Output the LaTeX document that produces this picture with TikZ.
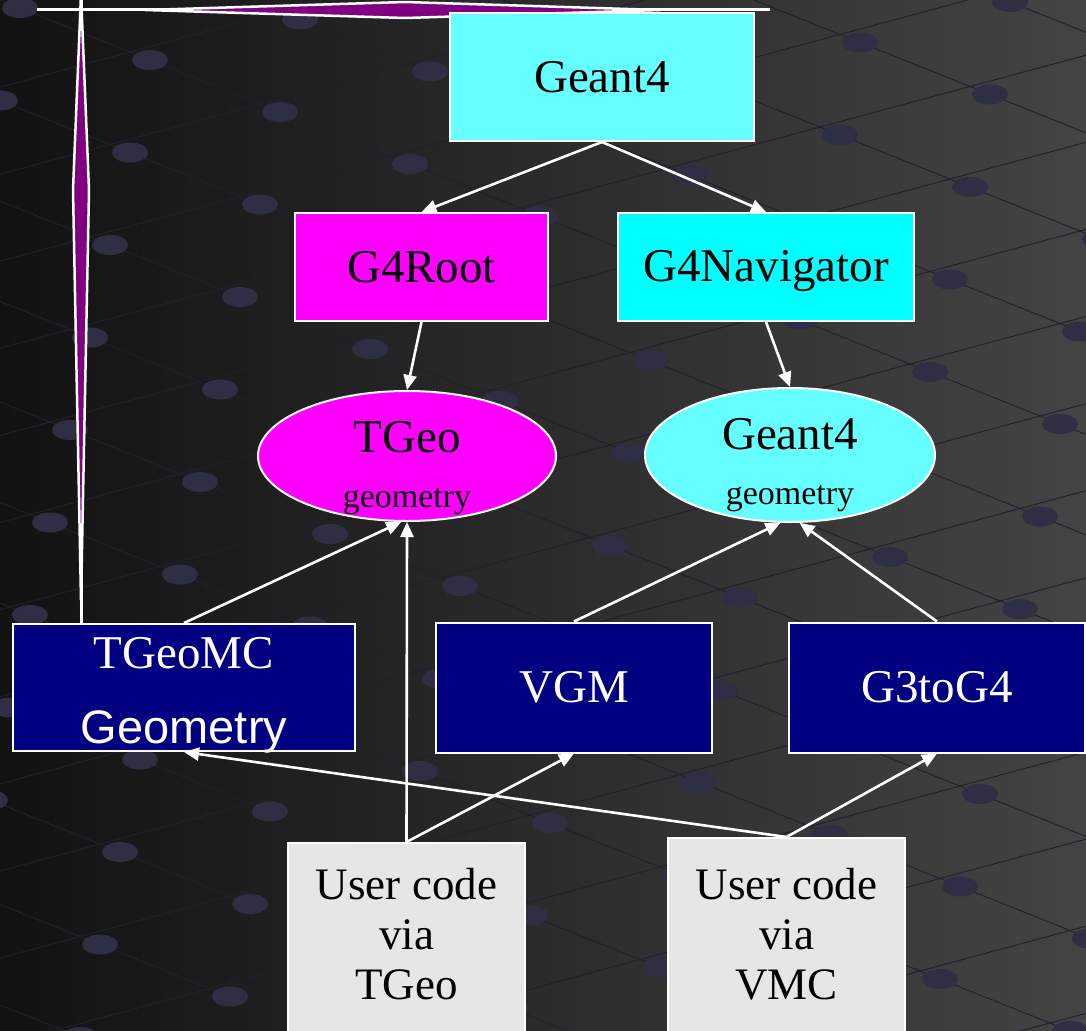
\documentclass[tikz,border=0pt]{standalone}
\usepackage{fontspec}
\setmainfont{Liberation Serif}
\newfontfamily\sansgeo{Liberation Sans}
\usetikzlibrary{arrows.meta, shapes.geometric}
\definecolor{lightcyan}{HTML}{66FFFF}
\definecolor{purecyan}{HTML}{00FFFF}
\definecolor{puremagenta}{HTML}{FF00FF}
\definecolor{darknavy}{HTML}{000080}
\definecolor{usergray}{HTML}{E6E6E6}
\definecolor{kitepurple}{HTML}{800080}
\definecolor{bgdark}{HTML}{121212}
\definecolor{bglight}{HTML}{444444}
\definecolor{dotblue}{HTML}{2E2E44}
\definecolor{gridblue}{HTML}{20202F}

\begin{document}
\begin{tikzpicture}[x=1pt,y=-1pt,>={Triangle[length=15pt,width=13pt]},
  box node/.style={rectangle,draw=white,line width=2pt,inner sep=0pt,font=\fontsize{47}{49}\selectfont},
  geo node/.style={ellipse,draw=white,line width=2pt,inner sep=0pt,minimum width=298pt,minimum height=130pt},
  geo text/.style={align=center,inner sep=0pt,font=\fontsize{47}{49}\selectfont},
  tool node/.style={box node,fill=darknavy,text=white,align=center,minimum height=130pt},
  user node/.style={box node,fill=usergray,align=center,minimum width=237pt,minimum height=200pt,
    font=\fontsize{45}{50}\selectfont},
  wire/.style={->,white,line width=2.6pt}]
  \useasboundingbox (0,0) rectangle (1086,1030);
  \shade[left color=bgdark,right color=bglight] (0,0) rectangle (1086,1030);
  \begin{scope}
    \clip (0,0) rectangle (1086,1030);
    \foreach \j in {-4,...,22}
      \draw[gridblue,line width=1pt] (-20*150+130*\j,20*40.5+52*\j) -- (20*150+130*\j,-20*40.5+52*\j);
    \foreach \i in {-10,...,10}
      \draw[gridblue,line width=1pt] (150*\i-20*130,-40.5*\i-20*52) -- (150*\i+30*130,-40.5*\i+30*52);
    \foreach \i in {-10,...,10}
      \foreach \j in {-4,...,22}
        \fill[dotblue] (150*\i+130*\j+20,-40.5*\i+52*\j+8) ellipse (18 and 10);
  \end{scope}

  \draw[white,line width=3pt] (37,10) -- (770,10);
  \filldraw[fill=kitepurple,draw=white,line width=2.5pt] (145,10) -- (405,2) -- (660,10) -- (405,18) -- cycle;
  \draw[white,line width=3pt] (81,-2) -- (81,624);
  \filldraw[fill=kitepurple,draw=white,line width=2.5pt] (81,-6) -- (73,190) -- (81,600) -- (89,190) -- cycle;

  \node[box node,fill=lightcyan,minimum width=304pt,minimum height=128pt] (geant) at (602,77) {Geant4};
  \node[box node,fill=puremagenta,minimum width=253pt,minimum height=108pt] (g4root) at (421.5,267) {G4Root};
  \node[box node,fill=purecyan,minimum width=296pt,minimum height=108pt] (g4nav) at (766,267) {\rule{0pt}{40pt}G4Navigator};
  \node[geo node,fill=puremagenta] (tgeo) at (407,456) {};
  \node[geo text] (tgeolabel) at (407,468) {TGeo\\[6pt]{\fontsize{34}{36}\selectfont geometry}};
  \node[geo node,fill=lightcyan,minimum width=290pt,minimum height=134pt] (g4geo) at (790,455) {};
  \node[geo text] (g4geolabel) at (790,465) {Geant4\\[6pt]{\fontsize{34}{36}\selectfont geometry}};
  \node[tool node,minimum width=342pt,minimum height=127pt] (tgeomc) at (184,687.5) {};
  \node[geo text,text=white] (tgeomclabel) at (184,695) {TGeoMC\\[26pt]{\sansgeo Geometry}};
  \node[tool node,minimum width=276pt] (vgm) at (574,687.5) {VGM};
  \node[tool node,minimum width=296pt] (g3tog4) at (937,687.5) {G3toG4};
  \node[user node] (usertgeo) at (406.5,943) {User code\\via\\TGeo\rule[-19pt]{0pt}{1pt}};
  \node[user node] (uservmc) at (786.5,938) {User code\\via\\VMC\rule[-9pt]{0pt}{1pt}};

  \path[wire]
    (geant.south) edge (g4root.north)
                  edge (g4nav.north)
    (g4root.south) edge (tgeo.north)
    (g4nav.south) edge (g4geo.north)
    (tgeomc.north) edge (tgeo.265)
    (usertgeo.north) edge (tgeo.south)
                     edge (vgm.south)
    (vgm.north) edge (g4geo.262)
    (g3tog4.north) edge (g4geo.278)
    (uservmc.north) edge (tgeomc.south)
                    edge (g3tog4.south);
\end{tikzpicture}
\end{document}
